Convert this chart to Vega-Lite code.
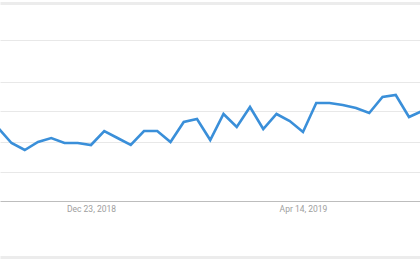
{
  "$schema": "https://vega.github.io/schema/vega-lite/v6.json",
  "width": 420,
  "height": 254,
  "autosize": {"type": "none"},
  "padding": {"top": 3, "left": 0, "right": 0, "bottom": 3},
  "background": "white",
  "config": {"view": {"stroke": null}},
  "data": {
    "values": [
      {"week": "2018-11-04", "interest": 73},
      {"week": "2018-11-11", "interest": 58},
      {"week": "2018-11-18", "interest": 51},
      {"week": "2018-11-25", "interest": 59},
      {"week": "2018-12-02", "interest": 63},
      {"week": "2018-12-09", "interest": 58},
      {"week": "2018-12-16", "interest": 58},
      {"week": "2018-12-23", "interest": 56},
      {"week": "2018-12-30", "interest": 70},
      {"week": "2019-01-06", "interest": 63},
      {"week": "2019-01-13", "interest": 56},
      {"week": "2019-01-20", "interest": 70},
      {"week": "2019-01-27", "interest": 70},
      {"week": "2019-02-03", "interest": 59},
      {"week": "2019-02-10", "interest": 79},
      {"week": "2019-02-17", "interest": 82},
      {"week": "2019-02-24", "interest": 61},
      {"week": "2019-03-03", "interest": 87},
      {"week": "2019-03-10", "interest": 74},
      {"week": "2019-03-17", "interest": 94},
      {"week": "2019-03-24", "interest": 72},
      {"week": "2019-03-31", "interest": 87},
      {"week": "2019-04-07", "interest": 80},
      {"week": "2019-04-14", "interest": 69},
      {"week": "2019-04-21", "interest": 98},
      {"week": "2019-04-28", "interest": 98},
      {"week": "2019-05-05", "interest": 96},
      {"week": "2019-05-12", "interest": 93},
      {"week": "2019-05-19", "interest": 88},
      {"week": "2019-05-26", "interest": 104},
      {"week": "2019-06-02", "interest": 106},
      {"week": "2019-06-09", "interest": 84},
      {"week": "2019-06-16", "interest": 90}
    ]
  },
  "mark": {"type": "line", "color": "#3a8fd9", "strokeWidth": 2.6, "clip": true, "strokeJoin": "miter", "strokeMiterLimit": 10},
  "encoding": {
    "x": {
      "field": "week",
      "type": "temporal",
      "scale": {
        "type": "utc",
        "domain": [
          {"year": 2018, "month": 11, "date": 4, "hours": 22, "minutes": 12, "utc": true},
          {"year": 2019, "month": 6, "date": 14, "hours": 19, "minutes": 30, "utc": true}
        ]
      },
      "axis": {
        "title": null,
        "grid": false,
        "domain": false,
        "ticks": false,
        "offset": -56,
        "labelPadding": 3,
        "labelFont": "Roboto",
        "labelFontSize": 8.5,
        "labelColor": "#9e9e9e",
        "labelExpr": "utcFormat(datum.value, '%b %d, %Y')",
        "values": [
          {"year": 2018, "month": 12, "date": 23, "utc": true},
          {"year": 2019, "month": 4, "date": 14, "utc": true}
        ]
      }
    },
    "y": {
      "field": "interest",
      "type": "quantitative",
      "scale": {"domain": [-56, 198], "nice": false, "zero": false},
      "axis": {
        "title": null,
        "labels": false,
        "ticks": false,
        "domain": false,
        "values": [-56, 0, 29, 59, 90, 119, 161, 198],
        "gridColor": {
          "condition": [
            {"test": "datum.value === 0", "value": "#bdbdbd"},
            {"test": "datum.value === -56 || datum.value === 198", "value": "#ececec"}
          ],
          "value": "#e8e8e8"
        },
        "gridWidth": {
          "condition": {"test": "datum.value === -56 || datum.value === 198", "value": 3},
          "value": 1
        }
      }
    }
  }
}
